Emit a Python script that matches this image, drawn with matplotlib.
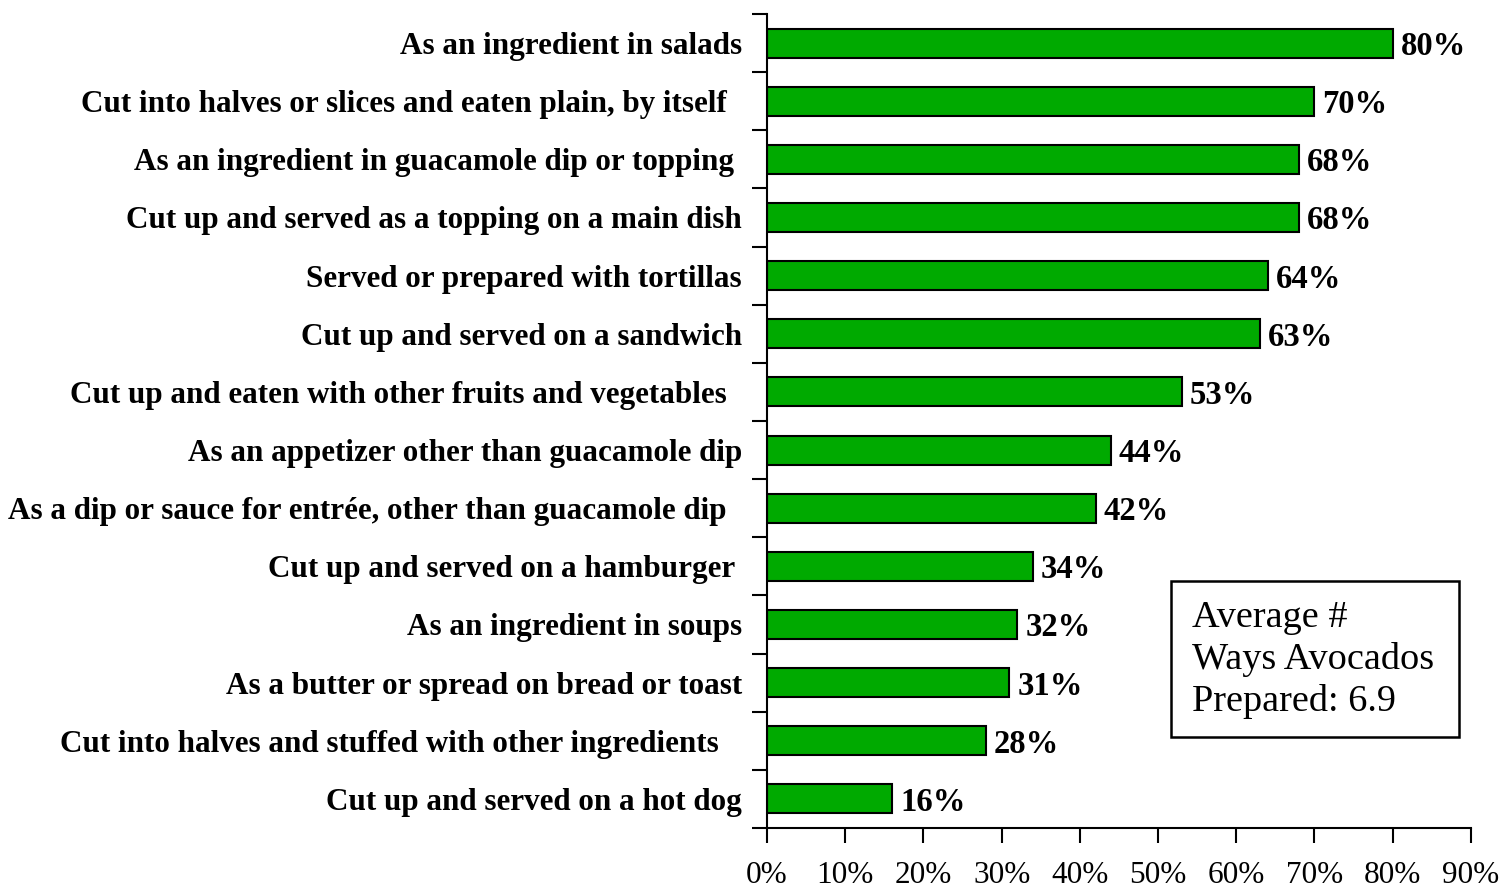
"""Ways avocados are prepared: horizontal bar chart recreated in matplotlib."""

import matplotlib

matplotlib.use("Agg")
import matplotlib.pyplot as plt  # noqa: E402
import numpy as np  # noqa: E402
from matplotlib.patches import Rectangle  # noqa: E402

categories = [
    "As an ingredient in salads",
    "Cut into halves or slices and eaten plain, by itself  ",
    "As an ingredient in guacamole dip or topping ",
    "Cut up and served as a topping on a main dish",
    "Served or prepared with tortillas",
    "Cut up and served on a sandwich",
    "Cut up and eaten with other fruits and vegetables  ",
    "As an appetizer other than guacamole dip",
    "As a dip or sauce for entrée, other than guacamole dip  ",
    "Cut up and served on a hamburger ",
    "As an ingredient in soups",
    "As a butter or spread on bread or toast",
    "Cut into halves and stuffed with other ingredients   ",
    "Cut up and served on a hot dog",
]
percents = [80, 70, 68, 68, 64, 63, 53, 44, 42, 34, 32, 31, 28, 16]
x_ticks = [0, 10, 20, 30, 40, 50, 60, 70, 80, 90]
note_text = "Average #\nWays Avocados\nPrepared: 6.9"

plt.rcParams["font.family"] = ["Liberation Serif", "DejaVu Serif"]

fig = plt.figure(figsize=(15.04, 8.9), dpi=100)
ax = fig.add_axes([0.51, 0.0697, 0.468, 0.9146])

y = np.arange(len(categories))[::-1]
ax.barh(y, percents, height=0.5, color="#00aa00", edgecolor="black", linewidth=1.5)
for yi, v in zip(y, percents):
    ax.text(v + 1.0, yi, f"{v}%", va="center_baseline", ha="left",
            fontsize=23.5, fontweight="bold")

ax.set_xlim(0, 90)
ax.set_ylim(-0.5, len(categories) - 0.5)
ax.set_xticks(x_ticks)
ax.set_xticklabels([f"{t}%" for t in x_ticks], fontsize=22.5)
ax.tick_params(axis="x", direction="out", length=11, width=1.5, pad=13)

ax.set_yticks(y)
ax.set_yticklabels(categories, fontsize=22.4, fontweight="bold")
ax.tick_params(axis="y", which="major", length=0, pad=18)
ax.set_yticks(np.arange(-0.5, len(categories), 1.0), minor=True)
ax.tick_params(axis="y", which="minor", direction="out", length=11, width=1.5)

for side in ("top", "right"):
    ax.spines[side].set_visible(False)
for side in ("left", "bottom"):
    ax.spines[side].set_linewidth(1.5)

# note box in figure coordinates
fig.patches.append(Rectangle((0.7786, 0.1719), 0.1915, 0.1753,
                             transform=fig.transFigure, facecolor="white",
                             edgecolor="black", linewidth=1.8))
fig.text(0.7926, 0.2585, note_text, fontsize=27.5, ha="left", va="center",
         linespacing=1.27)

fig.savefig("out.png", dpi=100)
